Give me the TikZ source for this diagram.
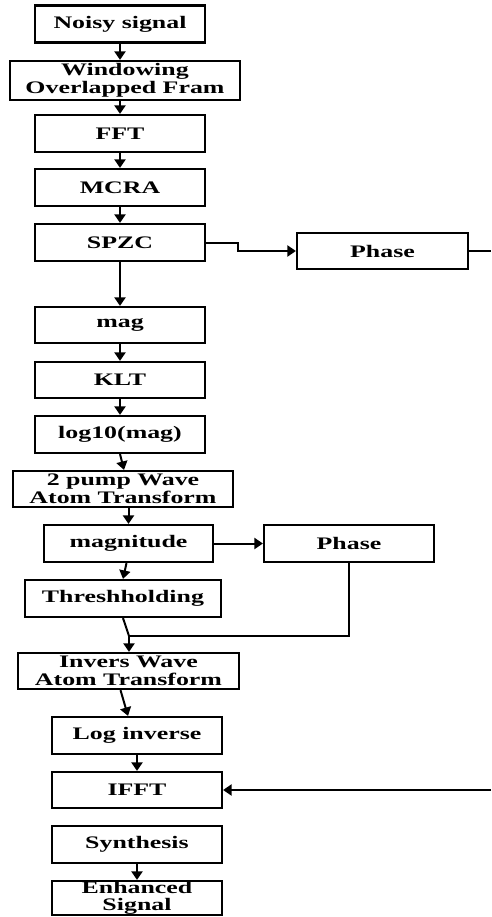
\documentclass[tikz,border=0pt]{standalone}
\usepackage{fontspec}
\newfontfamily\boxfont{Liberation Serif}[FakeStretch=1.47]
\usetikzlibrary{arrows.meta,calc}
\tikzset{
  box/.style={draw, line width=2.2pt, align=center, inner sep=0pt,
    font=\boxfont\bfseries\fontsize{17.6}{17.5}\selectfont},
  arr/.style={line width=2pt, -{Triangle[length=8.5pt,width=11pt]}},
  ln/.style={line width=2pt}
}
\begin{document}
\begin{tikzpicture}[x=1pt,y=-1pt]
\useasboundingbox (0,0) rectangle (491,917);
\node[box, minimum width=170, minimum height=37] (noisy) at (120,24) {Noisy signal};
\node[box, minimum width=230, minimum height=39] (win) at (125,80.5) {Windowing\\Overlapped Fram};
\node[box, minimum width=170, minimum height=37] (fft) at (120,133.5) {FFT};
\node[box, minimum width=170, minimum height=37] (mcra) at (120,187.5) {MCRA};
\node[box, minimum width=170, minimum height=37] (spzc) at (120,242.5) {SPZC};
\node[box, minimum width=171, minimum height=36] (phaseA) at (382.5,251) {Phase};
\node[box, minimum width=170, minimum height=36] (mag) at (120,325) {mag};
\node[box, minimum width=170, minimum height=36] (klt) at (120,380) {KLT};
\node[box, minimum width=170, minimum height=37] (logm) at (120,434.5) {log10(mag)};
\node[box, minimum width=220, minimum height=36] (pump) at (123,489) {2 pump Wave\\Atom Transform};
\node[box, minimum width=169, minimum height=37] (magn) at (128.5,543.5) {magnitude};
\node[box, minimum width=170, minimum height=37] (phaseB) at (349,543.5) {Phase};
\node[box, minimum width=196, minimum height=37] (thr) at (123,598.5) {Threshholding};
\node[box, minimum width=221, minimum height=36] (inv) at (128.5,671) {Invers Wave\\Atom Transform};
\node[box, minimum width=170, minimum height=37] (loginv) at (137,735.5) {Log inverse};
\node[box, minimum width=170, minimum height=36] (ifft) at (137,790) {IFFT};
\node[box, minimum width=170, minimum height=37] (syn) at (137,844.5) {Synthesis};
\node[box, minimum width=170, minimum height=34] (enh) at (137,898) {Enhanced\\Signal};

\coordinate (edgeA) at (491,251);
\coordinate (edgeB) at (491,790);
\coordinate (join) at (129,636);

\draw[arr] (noisy.south) -- (noisy.south |- win.north);
\draw[arr] (fft.north |- win.south) -- (fft.north);
\draw[arr] (fft.south) -- (mcra.north);
\draw[arr] (mcra.south) -- (spzc.north);
\draw[arr] (spzc.east) -- ++(32,0) |- (phaseA.west);
\draw[ln] (phaseA.east) -- (edgeA);
\draw[arr] (spzc.south) -- (mag.north);
\draw[arr] (mag.south) -- (klt.north);
\draw[arr] (klt.south) -- (logm.north);
\draw[arr] (logm.south) -- ([xshift=1pt]pump.north);
\draw[arr] (magn.north |- pump.south) -- (magn.north);
\draw[arr] (magn.east) -- (phaseB.west);
\draw[arr] ([xshift=-2pt]magn.south) -- (thr.north);
\draw[ln] (thr.south) -- (join);
\draw[ln] (phaseB.south) |- (join);
\draw[arr] (join) -- (join |- inv.north);
\draw[arr] ([xshift=-8pt]inv.south) -- ([xshift=-9pt]loginv.north);
\draw[arr] (loginv.south) -- (ifft.north);
\draw[arr] (edgeB) -- (ifft.east);
\draw[arr] (syn.south) -- (enh.north);
\end{tikzpicture}
\end{document}
